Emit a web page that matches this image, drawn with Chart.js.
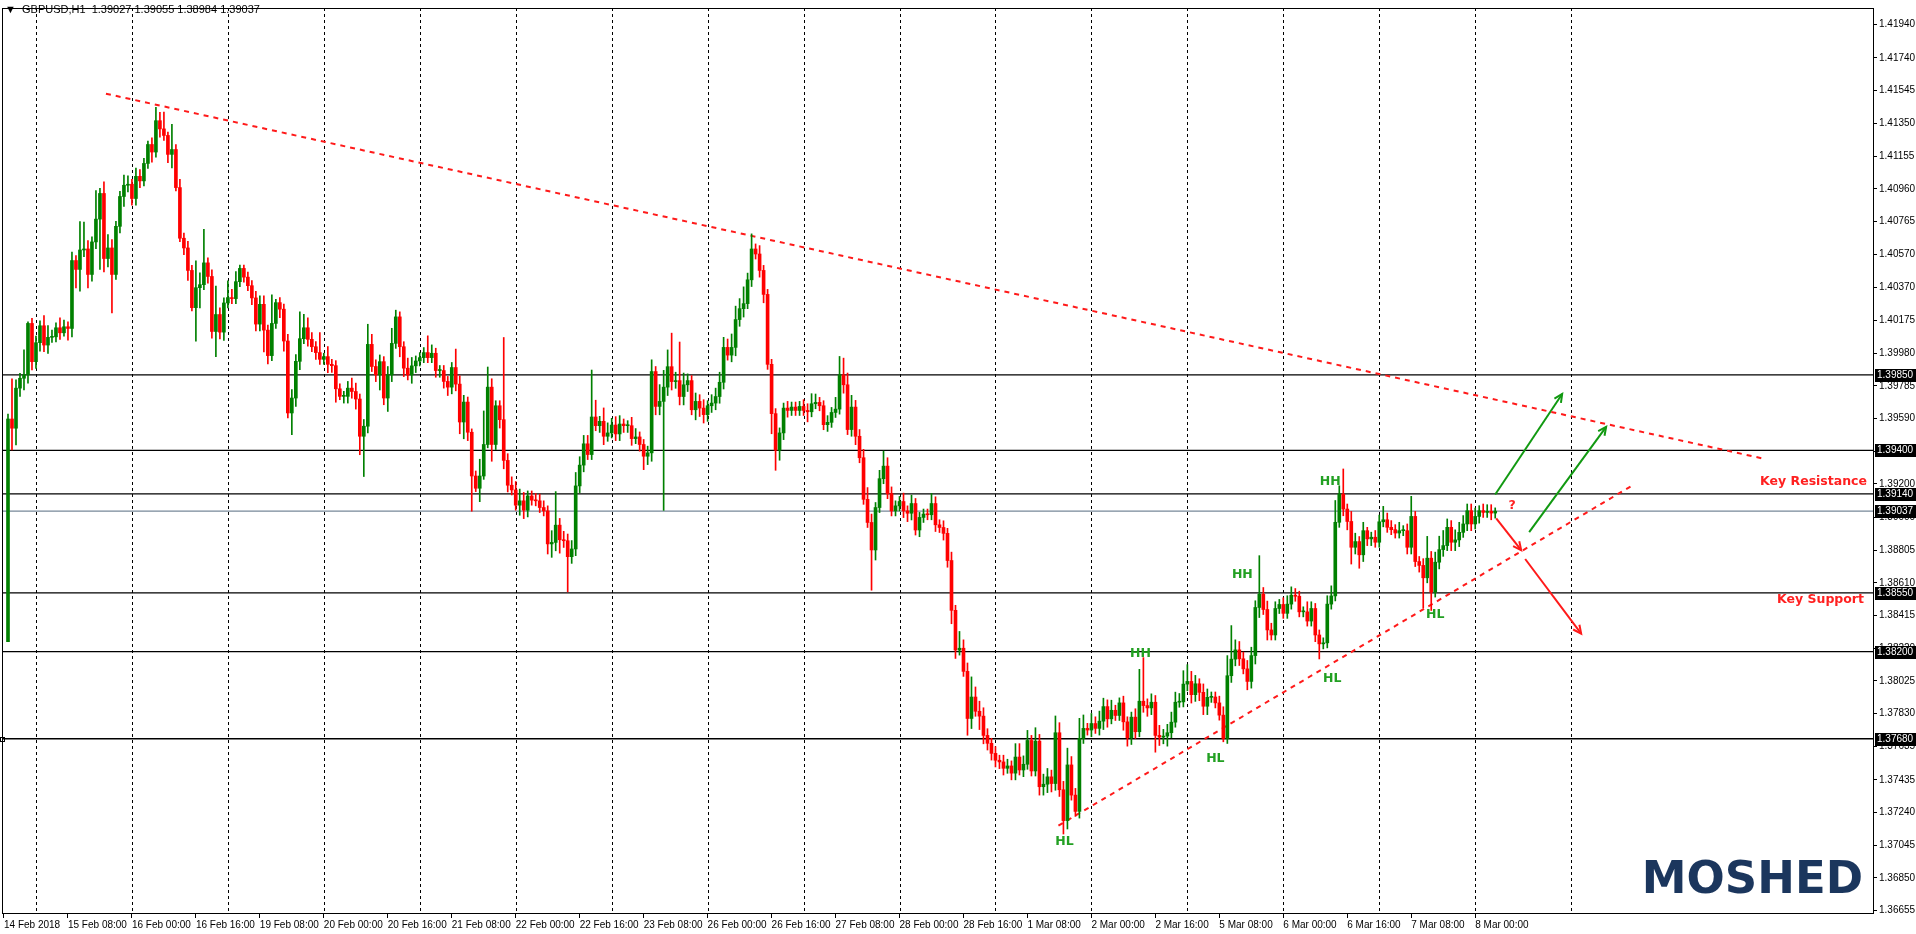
<!DOCTYPE html>
<html><head><meta charset="utf-8">
<script src="https://cdn.jsdelivr.net/npm/chart.js@4"></script>
<style>html,body{margin:0;padding:0;background:#fff;overflow:hidden}#c{display:block}</style>
</head><body><canvas id="c" width="1916" height="934"></canvas>
<script>
const xLabels=["14 Feb 2018","15 Feb 08:00","16 Feb 00:00","16 Feb 16:00","19 Feb 08:00","20 Feb 00:00","20 Feb 16:00","21 Feb 08:00","22 Feb 00:00","22 Feb 16:00","23 Feb 08:00","26 Feb 00:00","26 Feb 16:00","27 Feb 08:00","28 Feb 00:00","28 Feb 16:00","1 Mar 08:00","2 Mar 00:00","2 Mar 16:00","5 Mar 08:00","6 Mar 00:00","6 Mar 16:00","7 Mar 08:00","8 Mar 00:00"];
const yTicks=[1.41940,1.41740,1.41545,1.41350,1.41155,1.40960,1.40765,1.40570,1.40370,1.40175,1.39980,1.39785,1.39590,1.39395,1.39200,1.39000,1.38805,1.38610,1.38415,1.38220,1.38025,1.37830,1.37635,1.37435,1.37240,1.37045,1.36850,1.36655];
const levels=[1.39850,1.39400,1.39140,1.38550,1.38200,1.37680];
const lastPrice=1.39037;
const firstOpen=1.38259;
const closes=[
1.39587,1.39532,1.39771,1.39830,1.39850,1.40157,1.39929,1.40042,1.40143,1.40028,
1.40074,1.40077,1.40131,1.40101,1.40137,1.40127,1.40532,1.40479,1.40595,1.40601,
1.40449,1.40643,1.40779,1.40932,1.40544,1.40607,1.40449,1.40736,1.40914,1.40981,
1.40987,1.40902,1.41034,1.41007,1.41111,1.41224,1.41179,1.41366,1.41317,1.41278,
1.41165,1.41194,1.40967,1.40665,1.40607,1.40473,1.40251,1.40370,1.40388,1.40518,
1.40437,1.40109,1.40210,1.40105,1.40279,1.40311,1.40305,1.40406,1.40485,1.40433,
1.40382,1.40309,1.40153,1.40271,1.40117,1.39965,1.40157,1.40281,1.40242,1.40052,
1.39623,1.39712,1.39931,1.40066,1.40131,1.40062,1.40018,1.39983,1.39943,1.39959,
1.39913,1.39905,1.39767,1.39722,1.39722,1.39771,1.39751,1.39706,1.39484,1.39544,
1.40032,1.39900,1.39850,1.39929,1.39712,1.39850,1.40038,1.40196,1.40018,1.39890,
1.39850,1.39904,1.39933,1.39953,1.39983,1.39953,1.39979,1.39876,1.39876,1.39811,
1.39777,1.39894,1.39795,1.39569,1.39688,1.39508,1.39247,1.39174,1.39247,1.39435,
1.39777,1.39435,1.39666,1.39583,
1.39340,1.39192,1.39164,1.39073,1.39099,1.39043,1.39128,1.39103,1.39099,1.39059,
1.39039,1.38842,1.38851,1.38954,1.38867,1.38861,1.38766,1.38812,1.39188,1.39312,
1.39439,1.39375,1.39599,1.39547,1.39573,1.39484,1.39504,1.39551,1.39498,1.39557,
1.39547,1.39547,1.39470,1.39480,1.39435,1.39365,1.39385,1.39870,1.39662,1.39692,
1.39777,1.39899,1.39810,1.39816,1.39721,1.39791,1.39816,1.39642,1.39692,1.39652,
1.39613,1.39666,1.39682,1.39721,1.39806,1.40014,1.39968,1.40014,1.40180,1.40245,
1.40275,1.40417,1.40601,1.40571,1.40473,1.40330,1.39913,1.39619,1.39401,1.39504,
1.39652,1.39638,1.39658,1.39638,1.39662,1.39638,1.39630,1.39678,1.39686,1.39666,
1.39553,1.39567,1.39626,1.39646,1.39850,1.39791,1.39524,1.39658,1.39484,1.39356,
1.39108,1.38970,1.38806,1.39059,1.39231,1.39306,1.39142,1.39039,1.39069,1.39095,
1.39039,1.39025,1.39083,1.38925,1.39000,1.39020,1.39016,1.39083,1.38956,1.38940,
1.38905,1.38743,1.38446,1.38209,
1.38220,1.38082,1.37801,1.37929,1.37844,1.37815,1.37700,1.37653,1.37593,1.37552,
1.37542,1.37504,1.37518,1.37475,1.37571,1.37494,1.37528,1.37670,1.37488,1.37666,
1.37394,1.37409,1.37453,1.37413,1.37716,1.37376,1.37192,1.37524,1.37344,1.37247,
1.37682,1.37742,1.37732,1.37771,1.37742,1.37785,1.37872,1.37799,1.37850,1.37819,
1.37894,1.37781,1.37686,1.37809,1.37722,1.37904,1.37878,1.37864,1.37898,1.37700,
1.37690,1.37696,1.37716,1.37779,1.37898,1.37900,1.38006,1.38022,1.37943,1.38008,
1.37957,1.37874,1.37927,1.37929,1.37894,1.37821,1.37682,1.38056,1.38155,1.38210,
1.38157,1.38097,1.38022,1.38176,1.38463,1.38542,1.38451,1.38329,1.38299,1.38457,
1.38481,1.38428,1.38483,1.38536,1.38530,1.38437,1.38437,1.38382,1.38457,1.38299,
1.38246,1.38252,1.38483,1.38532,
1.38971,1.39139,1.39050,1.38976,1.38822,1.38856,1.38777,1.38921,1.38872,1.38882,
1.38852,1.38974,1.38986,1.38941,1.38927,1.38907,1.38921,1.38921,1.38822,1.39006,
1.38737,1.38714,1.38640,1.38757,1.38555,1.38733,1.38808,1.38832,1.38941,1.38852,
1.38866,1.38911,1.38961,1.39040,1.38961,1.39006,1.39040,1.39030,1.39036,1.39026,
1.39037];
const wickUpPips=[3,24,5,3,15,1,3,4,3,6,7,4,3,6,4,3,5,3,17,16,
5,3,17,3,7,8,5,3,3,6,5,3,5,4,3,2,4,8,5,10,
2,15,3,5,3,4,3,16,7,20,3,4,17,4,3,10,5,6,2,2,
3,3,4,5,5,3,17,2,3,3,4,5,4,16,8,6,4,3,12,2,
6,3,3,3,3,4,6,5,3,4,12,6,4,4,3,5,9,4,3,3,
6,5,3,3,3,10,5,3,3,3,3,3,11,5,4,3,2,3,10,20,
12,5,3,3,49,4,5,5,7,5,3,3,4,4,4,3,7,20,4,5,
4,5,8,5,5,5,28,10,3,8,6,4,5,5,3,3,5,5,3,3,
4,7,3,10,10,10,20,5,23,7,4,3,5,4,5,3,5,5,6,6,
5,8,8,6,10,4,9,3,5,3,3,3,3,3,3,4,3,3,3,4,
4,6,5,3,3,4,3,7,11,10,7,7,4,4,5,7,5,3,5,9,
5,4,3,3,5,3,5,3,3,3,3,6,4,3,4,3,5,3,10,5,
5,12,6,6,5,4,3,4,3,4,4,3,8,8,5,6,3,8,4,6,
5,4,10,6,5,10,5,4,12,8,3,6,4,6,5,4,6,3,3,4,
3,3,5,19,26,4,5,4,6,4,5,6,6,5,8,10,6,5,3,5,
5,3,3,4,5,12,20,6,5,4,5,5,4,23,4,5,4,4,3,4,
5,5,4,3,3,6,4,3,3,3,5,6,13,5,15,3,6,5,3,5,
2,3,4,4,8,4,4,3,5,3,4,12,3,3,4,13,4,6,8,9,
5,4,6,6,5,4,4,5,3,4,4,4,2];
const wickDnPips=[0,13,10,5,7,5,5,4,5,4,5,3,3,4,2,7,5,11,13,4,
8,4,4,30,8,5,23,3,4,6,4,4,4,4,3,3,6,3,5,3,
5,8,2,2,4,6,2,20,12,3,4,4,15,4,5,3,3,3,3,3,
3,4,4,4,13,5,3,3,5,6,3,13,5,5,3,4,3,4,3,3,
5,4,8,2,4,4,4,6,11,24,4,3,4,9,4,8,4,3,6,5,
3,5,4,3,3,3,3,4,4,4,5,4,4,7,10,5,21,2,8,2,
2,10,3,5,5,4,3,3,6,5,4,3,3,3,3,6,8,5,8,4,
21,4,4,4,4,3,3,3,4,5,3,3,4,4,4,4,4,3,4,8,
5,5,5,5,65,5,5,4,5,5,4,3,6,5,5,4,4,4,4,4,
3,4,5,4,5,3,4,3,4,5,3,12,12,6,4,4,3,3,3,3,
6,3,3,3,3,4,3,3,3,5,3,4,5,3,3,3,24,6,3,3,
3,3,3,3,4,5,4,3,4,3,3,3,4,3,4,4,8,5,3,3,
10,6,3,8,5,4,4,4,4,4,3,4,4,3,4,3,3,3,5,5,
5,5,4,4,8,5,3,3,4,3,3,4,3,4,5,5,3,3,3,5,
5,4,4,3,4,5,4,10,5,4,6,3,3,3,3,4,5,4,5,5,
5,3,3,3,2,3,4,4,4,3,5,4,5,6,3,6,3,3,3,3,
3,3,3,3,3,3,3,4,9,3,3,3,3,3,4,5,10,4,8,4,
4,4,3,3,3,3,3,3,3,3,4,4,3,4,18,3,11,3,4,4,
3,5,5,4,3,4,4,3,4,3,3,4,3];
const resistLine=[[25.5,1.41527],[440.2,1.39350]];
const supportLine=[[263.75,1.37162],[407.25,1.39190]];
const greenArrow1=[[373,1.39137],[389.75,1.39736]];
const greenArrow2=[[381.5,1.38912],[400.75,1.39540]];
const redArrow1=[[373.25,1.38995],[379.5,1.38805]];
const redArrow2=[[380.5,1.38752],[394.5,1.38307]];
const hhMarks=[[284.25,1.38188],[309.75,1.38657],[331.75,1.39214]];
const hlMarks=[[265.25,1.37067],[303,1.37560],[332.25,1.38040],[358,1.38419]];
const questionMark=[377.25,1.39072];
const keyRes=1.39214, keySup=1.38508;

const SLOTS=468, LAST_GRID=392;
const labels=[];for(let s=0;s<SLOTS;s++)labels.push(s);
const bodies=[null],wicks=[null],cols=[null];
let prev=firstOpen;
closes.forEach((c,i)=>{const o=prev;const up=c>=o;
 const hi=Math.max(o,c)+wickUpPips[i]*0.0001, lo=Math.min(o,c)-wickDnPips[i]*0.0001;
 bodies.push([o,c]);wicks.push([lo,hi]);cols.push(up?'#008000':'#ff0000');prev=c;});
const pts=a=>a.map(p=>({x:p[0],y:p[1]}));
const hl=(v,col)=>({type:'line',xAxisID:'x2',data:[{x:-0.5,y:v},{x:SLOTS-0.5,y:v}],borderColor:col,borderWidth:1.3,pointRadius:0,order:3});
const ds=[
 {type:'bar',data:wicks,backgroundColor:cols,barThickness:1,grouped:false,order:1},
 {type:'bar',data:bodies,backgroundColor:cols,barThickness:3,grouped:false,minBarLength:1,order:0},
 ...levels.map(v=>hl(v,'#000')), hl(lastPrice,'#778899'),
 {type:'line',xAxisID:'x2',data:pts(resistLine),borderColor:'#ff1a1a',borderWidth:2,borderDash:[5,5],pointRadius:0,order:2},
 {type:'line',xAxisID:'x2',data:pts(supportLine),borderColor:'#ff1a1a',borderWidth:2,borderDash:[5,5],pointRadius:0,order:2},
 {type:'line',xAxisID:'x2',data:pts(greenArrow1),borderColor:'#119911',borderWidth:2,pointRadius:0,order:2,arrow:true},
 {type:'line',xAxisID:'x2',data:pts(greenArrow2),borderColor:'#119911',borderWidth:2,pointRadius:0,order:2,arrow:true},
 {type:'line',xAxisID:'x2',data:pts(redArrow1),borderColor:'#ff1a1a',borderWidth:2,pointRadius:0,order:2,arrow:true},
 {type:'line',xAxisID:'x2',data:pts(redArrow2),borderColor:'#ff1a1a',borderWidth:2,pointRadius:0,order:2,arrow:true}
];
const F='"Liberation Sans", Arial, sans-serif';
const overlay={id:'overlay',
 beforeDatasetsDraw(ch){const c=ch.ctx,a=ch.chartArea,x=ch.scales.x;
  c.save();c.strokeStyle='#000';c.lineWidth=1;c.setLineDash([3,3]);
  for(let s=8;s<=LAST_GRID;s+=24){const px=Math.round(x.getPixelForValue(s))+0.5;c.beginPath();c.moveTo(px,a.top);c.lineTo(px,a.bottom);c.stroke();}
  c.restore();},
 afterDatasetsDraw(ch){const c=ch.ctx,a=ch.chartArea,x=ch.scales.x2,y=ch.scales.y;
  c.save();
  ch.data.datasets.forEach((d,i)=>{if(!d.arrow)return;const m=ch.getDatasetMeta(i).data;const p0=m[0],p1=m[1];
   const ang=Math.atan2(p1.y-p0.y,p1.x-p0.x);c.strokeStyle=d.borderColor;c.lineWidth=2;c.beginPath();
   c.moveTo(p1.x-9*Math.cos(ang-0.45),p1.y-9*Math.sin(ang-0.45));c.lineTo(p1.x,p1.y);
   c.lineTo(p1.x-9*Math.cos(ang+0.45),p1.y-9*Math.sin(ang+0.45));c.stroke();});
  c.font='bold 12.5px "DejaVu Sans", sans-serif';c.textAlign='center';c.textBaseline='middle';c.fillStyle='#22a022';
  hhMarks.forEach(p=>c.fillText('HH',x.getPixelForValue(p[0]),y.getPixelForValue(p[1])));
  hlMarks.forEach(p=>c.fillText('HL',x.getPixelForValue(p[0]),y.getPixelForValue(p[1])));
  c.fillStyle='#ff2020';c.fillText('?',x.getPixelForValue(questionMark[0]),y.getPixelForValue(questionMark[1]));
  c.textAlign='right';c.font='bold 12.5px "DejaVu Sans", sans-serif';
  c.fillText('Key Resistance',a.right-6,y.getPixelForValue(keyRes));
  c.fillText('Key Support',a.right-9,y.getPixelForValue(keySup));
  c.fillStyle='#1b365d';c.font='bold 45px "DejaVu Sans", sans-serif';c.textBaseline='alphabetic';
  c.fillText('MOSHED',a.right-10,a.bottom-20);
  c.strokeStyle='#000';c.lineWidth=1;c.strokeRect(a.left+0.5,a.top+0.5,a.right-a.left,a.bottom-a.top);
  c.fillStyle='#000';c.textAlign='left';c.textBaseline='middle';c.font='11px '+F;
  c.fillText('\u25BC  GBPUSD,H1  1.39027 1.39055 1.38984 1.39037',5,10);
  c.strokeRect(a.left-1.5,Math.round(y.getPixelForValue(levels[5]))-1.5,4,4);
  c.font='10px '+F;
  [...levels,lastPrice].forEach(v=>{const py=Math.round(y.getPixelForValue(v));
   c.fillStyle='#000';c.fillRect(a.right+2,py-6,42,13);c.fillStyle='#fff';c.fillText(v.toFixed(5),a.right+4,py+0.5);});
  c.restore();}
};
new Chart(document.getElementById('c'),{
 data:{labels,datasets:ds},
 options:{responsive:false,animation:false,events:[],
  layout:{padding:{left:2,top:3,right:0,bottom:0}},
  plugins:{legend:{display:false},tooltip:{enabled:false}},
  scales:{
   x:{type:'category',offset:true,afterFit:s=>{s.height=21;},
    grid:{drawOnChartArea:false,tickLength:5,color:'#000',offset:false},border:{display:true,color:'#000'},
    ticks:{autoSkip:false,maxRotation:0,align:'start',padding:1,color:'#000',font:{family:F,size:10},
     callback:(v,i)=>(i%16===0&&i/16<xLabels.length)?xLabels[i/16]:null}},
   x2:{type:'linear',display:false,min:-0.5,max:SLOTS-0.5},
   y:{position:'right',min:1.36641,max:1.42038,afterFit:s=>{s.width=43;},
    afterBuildTicks:s=>{s.ticks=yTicks.map(v=>({value:v}));},
    grid:{drawOnChartArea:false,tickLength:4,color:'#000'},border:{display:true,color:'#000'},
    ticks:{padding:2,color:'#000',font:{family:F,size:10},callback:v=>v.toFixed(5)}}
  }},
 plugins:[overlay]
});
</script></body></html>
